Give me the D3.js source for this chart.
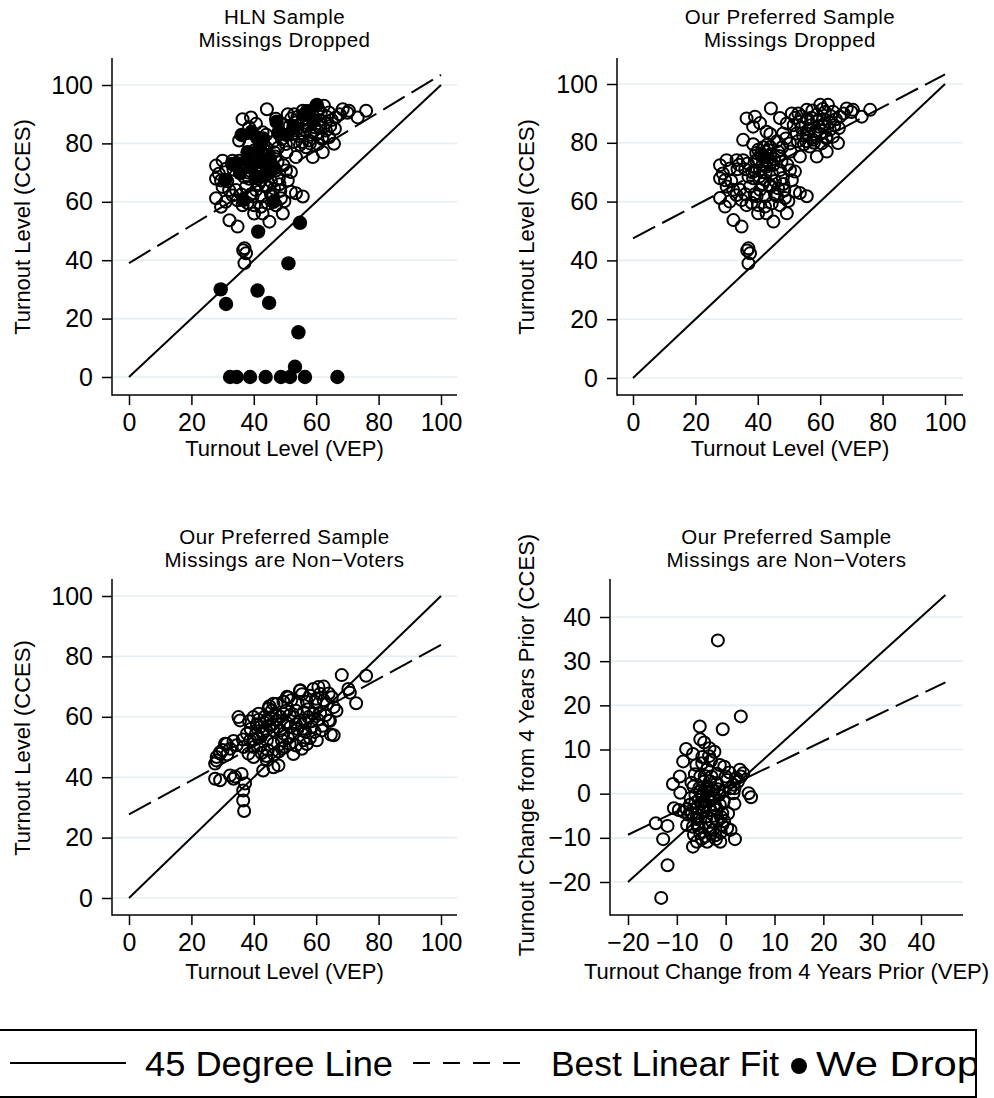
<!DOCTYPE html>
<html><head><meta charset="utf-8">
<script src="https://cdn.jsdelivr.net/npm/d3@7"></script>
<style>
body{margin:0;background:#fff}
svg{display:block}
text{font-family:"Liberation Sans",Arial,Helvetica,sans-serif;fill:#000}
</style>
</head><body>
<svg id="chart" width="994" height="1098"></svg>
<script>
// ---------------- DATA ----------------
const levelTicks = [0, 20, 40, 60, 80, 100];
const changeTicks = [-20, -10, 0, 10, 20, 30, 40];

// Our preferred sample, missings dropped (also the hollow points in the HLN panel)
const prefX = [44.2,36.4,39.1,40.7,38.5,42.8,44.0,35.3,47.1,50.9,53.5,55.7,58.9,60.0,62.5,64.1,66.3,68.5,70.5,73.3,76.0,
  65.7,62.1,58.9,53.5,56.7,50.3,48.1,49.3,52.5,55.7,58.2,60.9,63.1,57.7,60.5,54.8,62.0,64.1,51.5,46.1,42.3,40.1,41.2,44.0,
  46.5,47.6,39.6,42.8,40.7,44.5,47.1,50.3,51.9,50.9,35.3,33.2,30.0,27.9,31.1,28.8,27.9,29.5,31.5,37.0,38.5,37.5,42.3,43.9,
  46.5,48.5,40.7,30.0,32.1,34.3,39.6,42.5,46.1,48.7,51.9,53.5,55.7,27.9,29.5,33.2,34.8,36.4,38.0,40.1,42.3,44.5,47.1,49.8,
  40.1,42.8,45.0,49.3,32.2,34.8,37.0,37.5,37.0,36.6,41.0,42.0,43.0,41.5,42.5,43.5,40.0,44.0,57.0,58.5,59.0,61.0,62.0,60.0,
  56.0,54.0,55.5,58.0,63.0,64.5,61.5,57.5,66.0,39.0,45.5,36.0,38.5,45.0,48.0,33.5,44.0,53.0,67.5,70.0,52.0,
  41.8,43.2,39.5,45.2,46.8,43.8,40.5,38.2,36.8,34.0,41.5,45.5,48.2,49.5,47.8,50.5,52.8,54.5,56.5,59.5,61.5,63.5,65.0,60.8,
  57.2,54.0,49.0,39.0,36.0,31.0];
const prefY = [91.7,88.3,88.9,86.7,85.5,83.8,83.0,81.0,88.4,90.0,87.2,91.2,89.5,92.9,92.9,90.6,88.9,91.7,91.2,88.9,91.2,
  79.9,77.0,75.3,75.3,78.7,79.8,83.2,86.6,83.2,83.2,83.0,85.6,84.4,81.0,79.8,79.5,81.5,82.1,86.0,80.5,77.0,77.6,75.3,76.0,
  77.0,73.6,73.6,71.9,70.7,69.6,70.7,70.7,70.2,67.3,74.1,74.1,74.1,72.4,71.3,69.6,67.9,67.3,67.0,68.5,67.9,65.1,67.3,65.1,
  64.5,63.8,64.0,65.1,64.0,64.0,61.8,61.8,61.8,61.2,63.4,62.9,61.8,61.2,58.3,62.2,60.5,58.8,59.6,58.8,58.3,59.4,58.8,60.2,
  56.0,56.0,53.2,56.0,53.7,51.5,44.1,42.4,39.0,43.4,76.0,75.0,74.0,72.5,70.0,77.5,74.5,78.5,86.0,84.0,87.5,88.0,82.0,83.0,
  88.0,85.0,80.5,80.0,87.0,86.0,90.5,91.0,85.0,70.5,67.0,71.0,79.5,72.5,68.0,71.0,65.5,90.0,90.0,90.5,88.5,
  78.5,79.5,76.5,74.5,75.5,72.5,68.5,70.0,73.0,72.5,66.0,62.5,66.0,72.5,78.5,77.0,80.5,82.5,84.5,85.5,86.5,89.0,88.0,91.5,
  88.5,89.0,81.5,62.5,62.5,60.0];

// Observations dropped from the HLN sample (filled markers)
const dropX = [60.2,47.3,39.3,36.1,43.0,50.5,42.0,37.7,34.5,35.6,43.0,46.3,40.9,30.8,46.3,36.6,55.9,59.1,52.7,
  38.0,41.0,44.0,39.0,48.0,57.0,33.0,45.0,
  54.8,41.4,51.1,29.4,31.1,41.2,44.9,54.3,53.2,32.4,34.5,38.8,43.8,48.7,51.6,56.4,66.8];
const dropY = [93.2,87.4,84.0,82.9,81.7,82.9,78.9,74.3,73.2,69.8,73.2,72.0,68.6,67.5,60.0,60.6,89.7,88.0,85.7,
  77.0,82.0,70.0,72.0,84.0,91.0,73.0,75.0,
  52.8,49.8,38.9,30.0,25.0,29.6,25.4,15.3,3.5,0,0,0,0,0,0,0,0];

// Our preferred sample, missings are non-voters
const nvX = [68.2,76.0,70.3,70.8,72.8,64.7,64.4,63.4,61.2,59.1,62.4,54.8,51.1,47.3,45.8,52.7,46.3,47.9,43.0,44.2,35.1,35.6,
  31.3,29.2,28.1,27.6,28.1,29.2,30.8,27.6,29.2,32.4,33.5,34.0,36.1,37.2,36.6,36.6,36.9,39.9,41.5,44.7,46.3,50.6,52.0,54.1,
  54.9,57.0,59.1,60.7,59.7,64.0,65.0,65.6,66.5,64.0,61.8,60.2,65.6,55.9,55.4,50.0,49.0,46.3,44.2,42.8,40.7,38.8,37.8,38.3,
  39.9,36.7,34.5,32.4,52.7,54.9,51.7,47.4,49.5,44.2,42.0,46.3,49.5,52.7,55.9,58.6,57.5,61.3,62.4,41.0,43.0,45.0,40.0,42.0,
  47.5,50.5,53.5,56.5,58.0,44.5,48.0,39.0,43.5,
  41.5,43.5,45.5,47.0,48.5,50.5,51.5,53.5,56.0,57.5,58.5,60.5,63.0,62.0,59.5,56.5,54.0,51.0,48.5,46.0,44.0,41.5,40.0,42.5,
  44.0,46.5,49.0,51.5,53.5,57.0,38.5,36.5,33.5,30.0,31.5,45.0,55.5,58.0,60.0,49.5];
const nvY = [73.8,73.6,69.2,68.0,64.5,54.1,58.7,64.2,67.6,69.2,70.0,68.6,66.4,64.2,62.1,47.7,43.3,43.9,42.2,45.6,59.9,58.8,
  51.0,48.3,45.5,44.5,46.7,47.8,51.1,39.5,39.0,40.6,39.5,40.2,41.1,37.9,35.6,32.3,28.8,59.9,61.0,62.7,64.3,66.6,65.5,64.3,
  68.8,65.0,61.0,69.9,64.9,67.7,66.5,63.2,62.0,58.8,55.5,52.2,53.9,52.2,49.4,50.0,52.2,51.1,52.2,54.4,54.4,52.2,54.4,47.8,
  46.7,50.0,50.6,49.4,59.9,58.8,56.6,58.8,61.0,58.8,56.6,55.5,54.4,54.4,55.5,56.6,59.9,61.0,65.5,57.5,55.0,57.0,52.5,50.5,
  56.5,58.0,57.5,58.0,53.0,49.0,48.5,56.0,60.0,
  59.0,58.0,59.5,61.0,60.0,62.0,60.5,62.0,61.5,62.5,58.5,59.0,60.5,57.0,55.0,55.0,56.0,53.0,55.5,57.5,55.5,53.0,50.0,48.0,
  47.0,47.5,49.5,51.0,50.5,51.0,58.5,52.5,52.0,49.0,47.5,63.5,67.5,67.0,66.0,65.0];

// Turnout change from 4 years prior
const chgX = [-1.6,3.1,-0.6,-5.3,-5.2,-4.4,-3.3,-2.3,-8.1,-6.7,-4.8,-8.7,-9.4,-10.8,-9.3,-6.3,-5.2,-3.8,-2.9,-1.2,-0.3,0.0,
  2.9,3.1,2.5,1.6,1.0,-1.8,-2.5,-3.8,-5.2,-6.2,-5.5,-4.5,-3.5,-2.5,-1.4,-0.4,1.8,4.7,5.2,-5.9,-4.5,-3.1,-1.8,-0.7,-10.6,
  -9.6,-8.6,-7.6,-7.9,-6.7,-5.5,-4.2,-2.8,-1.8,-0.7,0.3,1.0,-5.2,-4.2,-3.1,-2.1,-5.9,-3.8,-1.1,1.9,-6.7,-14.3,-11.9,-12.8,
  -11.9,-13.2,-6.9,-6.6,-4.5,1.6,0.3,2.1,-4.8,-3.4,-4.8,-3.9,-3.0,-4.2,-2.2,-3.5,-5.0,-2.8,-7.3,-6.0,-1.0,
  -4.6,-3.6,-4.0,-2.6,-5.4,-3.2,-1.6,-2.0,-4.8,-6.2,-3.9,-2.4,-5.7,-1.2,-0.5,-6.5,-4.9,-2.6,-1.0,0.5,-7.2,-8.0,-6.0,-3.0,
  -1.8,0.8,-4.3,-7.0,-5.8,-3.4,-2.0,-0.3,1.8,3.6,2.2];
const chgY = [34.7,17.5,14.6,15.2,12.3,11.6,10.3,9.5,10.1,9.0,8.3,7.3,3.9,2.2,0.2,4.4,3.9,5.5,3.9,6.5,6.1,3.9,
  5.4,3.9,2.7,2.0,1.2,2.4,0.8,1.6,0.5,-0.3,-1.4,-1.8,-0.7,-1.0,-0.3,-1.8,-2.3,0.1,-0.8,-3.3,-4.1,-3.7,-3.4,-4.4,-3.3,
  -3.7,-4.1,-4.8,-7.1,-7.5,-7.8,-6.7,-6.3,-6.0,-7.1,-7.8,-8.2,-9.0,-9.7,-9.0,-9.4,-10.9,-10.9,-10.9,-10.3,-12.0,-6.7,-7.3,-10.3,
  -16.2,-23.6,-4.4,1.6,2.7,0.1,3.1,3.5,6.9,8.5,-0.5,0.3,-1.5,-3.0,-2.6,1.0,-2.2,0.8,-2.5,-5.5,-5.2,
  -0.2,-0.9,1.2,-0.2,1.3,2.8,1.0,-3.6,-3.8,-2.0,-5.2,-5.0,-5.8,-2.5,0.6,-9.3,-10.2,-8.2,-8.8,-4.5,-1.0,-3.5,6.5,7.5,
  4.5,4.8,4.0,2.5,-7.0,-7.8,-10.3,-6.2,1.2,4.6,3.4];

// Reference lines (endpoints)
const diagLevel = [[0, 0], [100, 100]];
const diagChange = [[-20, -20], [45, 45]];
const fitHLN = [[0, 39.0], [100, 103.5]];
const fitPrefDropped = [[0, 47.5], [100, 103.3]];
const fitPrefNonVoters = [[0, 27.7], [100, 83.8]];
const fitChange = [[-20, -9.3], [45, 25.2]];

const titles = [["HLN Sample", "Missings Dropped"], ["Our Preferred Sample", "Missings Dropped"],
                ["Our Preferred Sample", "Missings are Non\u2212Voters"], ["Our Preferred Sample", "Missings are Non\u2212Voters"]];
const xTitles = ["Turnout Level (VEP)", "Turnout Level (VEP)", "Turnout Level (VEP)", "Turnout Change from 4 Years Prior (VEP)"];
const yTitles = ["Turnout Level (CCES)", "Turnout Level (CCES)", "Turnout Level (CCES)", "Turnout Change from 4 Years Prior (CCES)"];
const legendLabels = ["45 Degree Line", "Best Linear Fit", "We Drop"];

// ---------------- LAYOUT ----------------
const zip = (xs, ys) => xs.map((x, i) => [x, ys[i]]);
const panels = [
  {frame:{l:112,r:457,t:58,b:395}, xd:[0,100], xr:[129,441], yd:[0,100], yr:[377,85], ticksX:levelTicks, ticksY:levelTicks,
   titleY:[24,47], yTitleX:30, yTitleCY:227, xTitleY:456, hollow:zip(prefX,prefY), filled:zip(dropX,dropY), diag:diagLevel, fit:fitHLN},
  {frame:{l:617,r:963,t:58,b:395}, xd:[0,100], xr:[633,945], yd:[0,100], yr:[378,84], ticksX:levelTicks, ticksY:levelTicks,
   titleY:[24,47], yTitleX:534, yTitleCY:227, xTitleY:456, hollow:zip(prefX,prefY), filled:[], diag:diagLevel, fit:fitPrefDropped},
  {frame:{l:112,r:457,t:579,b:915}, xd:[0,100], xr:[129,441], yd:[0,100], yr:[898,596], ticksX:levelTicks, ticksY:levelTicks,
   titleY:[544,567], yTitleX:30, yTitleCY:748, xTitleY:979, hollow:zip(nvX,nvY), filled:[], diag:diagLevel, fit:fitPrefNonVoters},
  {frame:{l:610,r:963,t:579,b:915}, xd:[-20,40], xr:[628,921], yd:[-20,40], yr:[882,617], ticksX:changeTicks, ticksY:changeTicks,
   titleY:[544,567], yTitleX:534, yTitleCY:745, xTitleY:979, hollow:zip(chgX,chgY), filled:[], diag:diagChange, fit:fitChange}
];

const svg = d3.select("#chart");
const gridColor = "#e6eef1";

panels.forEach((p, i) => {
  const f = p.frame;
  const x = d3.scaleLinear().domain(p.xd).range(p.xr);
  const y = d3.scaleLinear().domain(p.yd).range(p.yr);
  const g = svg.append("g");
  const cx = (f.l + f.r) / 2;

  // titles
  titles[i].forEach((t, k) => {
    g.append("text").attr("x", cx).attr("y", p.titleY[k]).attr("text-anchor", "middle")
      .style("font-size", "20.5px").style("letter-spacing", "0.5px").text(t);
  });

  // grid
  g.selectAll("line.grid").data(p.ticksY).enter().append("line")
    .attr("x1", f.l + 1).attr("x2", f.r).attr("y1", d => y(d)).attr("y2", d => y(d))
    .attr("stroke", gridColor).attr("stroke-width", 1.6);

  // axes
  const ya = g.append("g").attr("transform", `translate(${f.l},0)`)
    .call(d3.axisLeft(y).tickValues(p.ticksY).tickSize(10).tickPadding(9).tickSizeOuter(0));
  const xa = g.append("g").attr("transform", `translate(0,${f.b})`)
    .call(d3.axisBottom(x).tickValues(p.ticksX).tickSize(10).tickPadding(8).tickSizeOuter(0));
  [ya, xa].forEach(a => {
    a.select(".domain").remove();
    a.selectAll(".tick line").attr("stroke", "#000").attr("stroke-width", 1.5);
    a.selectAll(".tick text").style("font-size", "25px").attr("fill", "#000")
      .style("font-family", '"Liberation Sans",Arial,sans-serif');
  });
  g.append("line").attr("x1", f.l).attr("x2", f.l).attr("y1", f.t).attr("y2", f.b + 0.75)
    .attr("stroke", "#000").attr("stroke-width", 1.5);
  g.append("line").attr("x1", f.l).attr("x2", f.r).attr("y1", f.b).attr("y2", f.b)
    .attr("stroke", "#000").attr("stroke-width", 1.5);

  // axis titles
  g.append("text").attr("x", cx).attr("y", p.xTitleY).attr("text-anchor", "middle")
    .style("font-size", "22px").text(xTitles[i]);
  g.append("text").attr("transform", `translate(${p.yTitleX},${p.yTitleCY}) rotate(-90)`)
    .attr("text-anchor", "middle").style("font-size", "22px").text(yTitles[i]);

  const line = d3.line().x(d => x(d[0])).y(d => y(d[1]));
  // 45 degree line
  g.append("path").datum(p.diag).attr("d", line).attr("fill", "none")
    .attr("stroke", "#000").attr("stroke-width", 2);
  // fit line
  g.append("path").datum(p.fit).attr("d", line).attr("fill", "none")
    .attr("stroke", "#000").attr("stroke-width", 2).attr("stroke-dasharray", "25,8");

  // points
  g.selectAll("circle.h").data(p.hollow).enter().append("circle")
    .attr("cx", d => x(d[0])).attr("cy", d => y(d[1])).attr("r", 6)
    .attr("fill", "none").attr("stroke", "#000").attr("stroke-width", 2);
  g.selectAll("circle.f").data(p.filled).enter().append("circle")
    .attr("cx", d => x(d[0])).attr("cy", d => y(d[1])).attr("r", 7.2)
    .attr("fill", "#000");
});

// ---------------- LEGEND ----------------
const lg = svg.append("g");
lg.append("clipPath").attr("id", "lgclip").append("rect")
  .attr("x", -10).attr("y", 1025).attr("width", 986).attr("height", 80);
lg.append("rect").attr("x", -5).attr("y", 1030).attr("width", 981).attr("height", 67)
  .attr("fill", "none").attr("stroke", "#000").attr("stroke-width", 2);
const li = lg.append("g").attr("clip-path", "url(#lgclip)");
li.append("line").attr("x1", 10).attr("x2", 126).attr("y1", 1063).attr("y2", 1063)
  .attr("stroke", "#000").attr("stroke-width", 2);
li.append("text").attr("x", 145).attr("y", 1076).style("font-size", "35px")
  .attr("textLength", 248).attr("lengthAdjust", "spacingAndGlyphs").text(legendLabels[0]);
li.append("line").attr("x1", 413).attr("x2", 527).attr("y1", 1063).attr("y2", 1063)
  .attr("stroke", "#000").attr("stroke-width", 2).attr("stroke-dasharray", "17,13");
li.append("text").attr("x", 551).attr("y", 1076).style("font-size", "35px")
  .attr("textLength", 228).attr("lengthAdjust", "spacingAndGlyphs").text(legendLabels[1]);
li.append("circle").attr("cx", 799).attr("cy", 1066).attr("r", 8).attr("fill", "#000");
li.append("text").attr("x", 816).attr("y", 1076).style("font-size", "35px")
  .attr("textLength", 164).attr("lengthAdjust", "spacingAndGlyphs").text(legendLabels[2]);
</script>
</body></html>
